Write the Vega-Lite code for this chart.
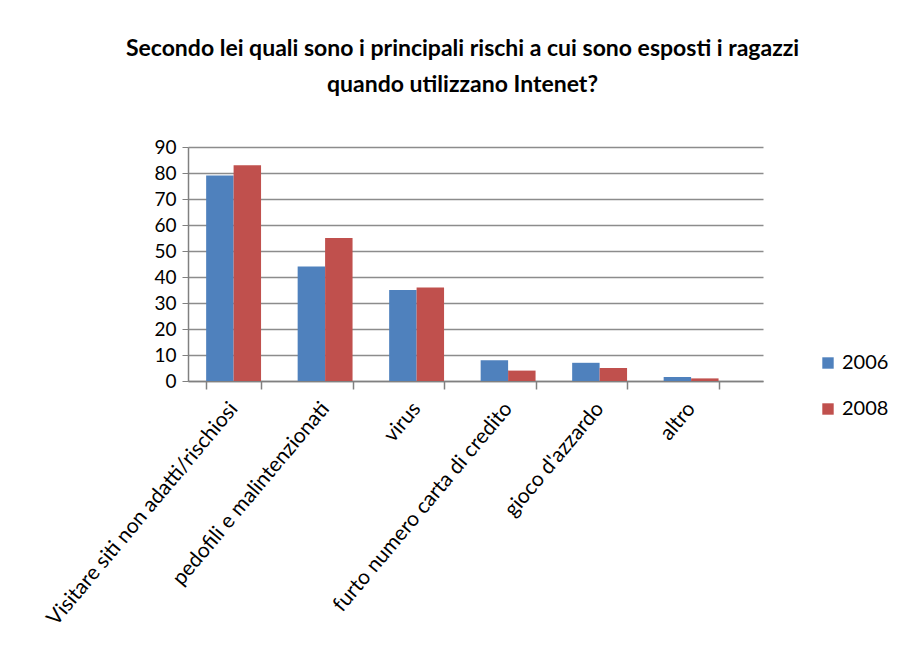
{
  "$schema": "https://vega.github.io/schema/vega-lite/v6.json",
  "width": 575,
  "height": 234,
  "padding": {"left": 42, "top": 38, "right": 5, "bottom": 5},
  "background": "white",
  "title": {
    "text": ["Secondo lei quali sono i principali rischi a cui sono esposti i ragazzi", "quando utilizzano Intenet?"],
    "font": "Lato",
    "fontSize": 23,
    "fontWeight": "bold",
    "color": "#000000",
    "lineHeight": 36,
    "anchor": "middle",
    "frame": "group",
    "offset": 41,
    "dx": -13
  },
  "data": {
    "values": [
      {"rischio": "Visitare siti non adatti/rischiosi", "anno": "2006", "valore": 79},
      {"rischio": "Visitare siti non adatti/rischiosi", "anno": "2008", "valore": 83},
      {"rischio": "pedofili e malintenzionati", "anno": "2006", "valore": 44},
      {"rischio": "pedofili e malintenzionati", "anno": "2008", "valore": 55},
      {"rischio": "virus", "anno": "2006", "valore": 35},
      {"rischio": "virus", "anno": "2008", "valore": 36},
      {"rischio": "furto numero carta di credito", "anno": "2006", "valore": 8},
      {"rischio": "furto numero carta di credito", "anno": "2008", "valore": 4},
      {"rischio": "gioco d'azzardo", "anno": "2006", "valore": 7},
      {"rischio": "gioco d'azzardo", "anno": "2008", "valore": 5},
      {"rischio": "altro", "anno": "2006", "valore": 1.5},
      {"rischio": "altro", "anno": "2008", "valore": 1}
    ]
  },
  "mark": {"type": "bar"},
  "encoding": {
    "x": {
      "field": "rischio",
      "type": "nominal",
      "sort": null,
      "scale": {"paddingInner": 0.4, "paddingOuter": 0.342, "align": 0.29},
      "axis": {
        "title": null,
        "labelAngle": -50,
        "labelFont": "Lato",
        "labelFontSize": 21,
        "labelColor": "#000000",
        "labelLimit": 400,
        "tickBand": "extent",
        "tickSize": 8,
        "tickColor": "#808080",
        "tickWidth": 1.5,
        "domainColor": "#808080",
        "domainWidth": 1.5,
        "labelPadding": 16
      }
    },
    "xOffset": {"field": "anno", "type": "nominal"},
    "y": {
      "field": "valore",
      "type": "quantitative",
      "scale": {"domain": [0, 90]},
      "axis": {
        "title": null,
        "values": [0, 10, 20, 30, 40, 50, 60, 70, 80, 90],
        "labelFont": "Lato",
        "labelFontSize": 19,
        "labelColor": "#000000",
        "labelPadding": 6,
        "tickColor": "#808080",
        "tickSize": 6,
        "domainColor": "#808080",
        "domainWidth": 1.5,
        "gridColor": "#8c8c8c",
        "gridWidth": 1.5
      }
    },
    "color": {
      "field": "anno",
      "type": "nominal",
      "scale": {"domain": ["2006", "2008"], "range": ["#4F81BD", "#C0504D"]},
      "legend": {
        "title": null,
        "orient": "none",
        "legendX": 630,
        "legendY": 206,
        "symbolType": "square",
        "symbolSize": 130,
        "symbolStrokeWidth": 0,
        "labelFont": "Lato",
        "labelFontSize": 20,
        "labelColor": "#000000",
        "rowPadding": 26
      }
    }
  },
  "config": {
    "view": {"stroke": null}
  }
}
